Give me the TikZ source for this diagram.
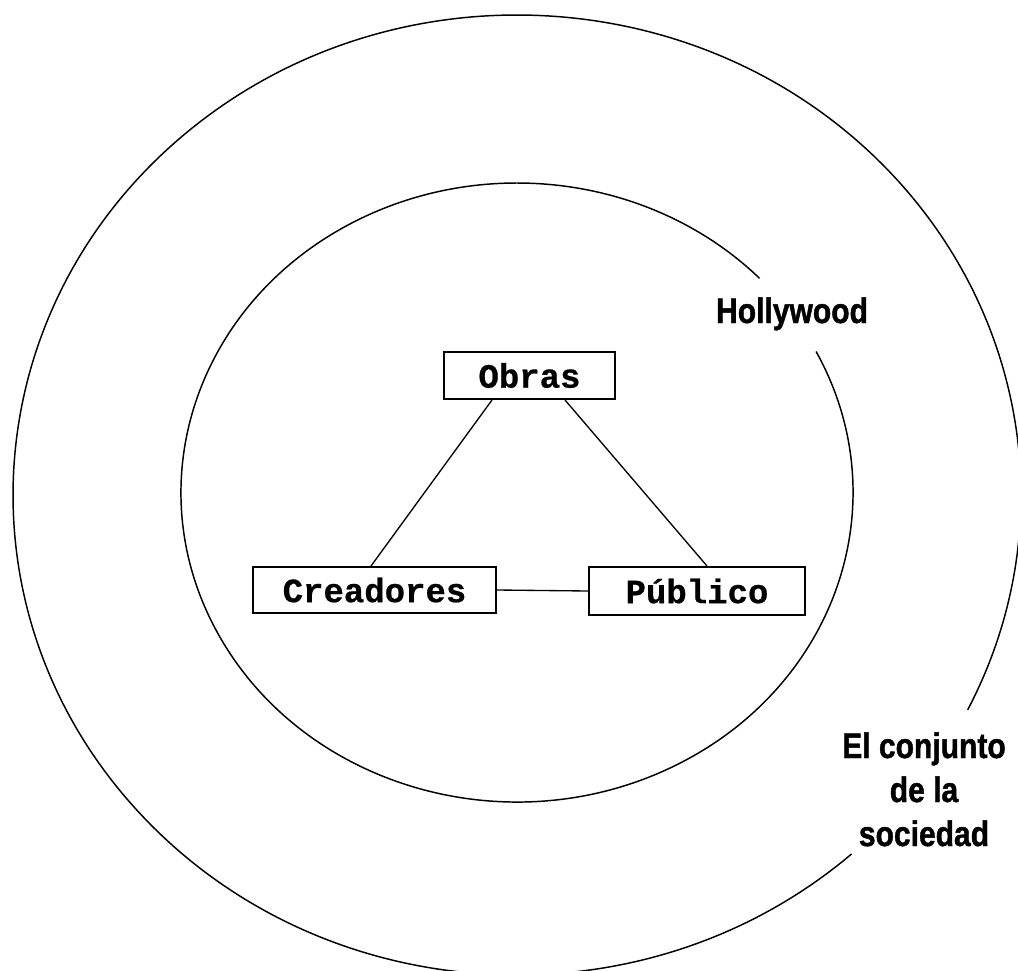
\documentclass[tikz,border=0pt]{standalone}
\usepackage{fontspec}
\usetikzlibrary{calc}
\newfontfamily\monofnt[FakeBold=0.6]{Liberation Mono}
\newfontfamily\labelfnt[FakeStretch=0.85,FakeBold=1.2]{Liberation Sans}
\tikzset{
  ring/.style={line width=1.1pt},
  box/.style={draw, line width=1.5pt, rectangle, inner sep=0pt, font=\monofnt\bfseries\fontsize{25.5pt}{30pt}\selectfont},
  link/.style={line width=1pt},
  lbl/.style={font=\labelfnt\bfseries\fontsize{26.5pt}{33pt}\selectfont, align=center, inner sep=0pt}
}
\begin{document}
\begin{tikzpicture}[x=0.75pt,y=-0.75pt]
\useasboundingbox (0,0) rectangle (1018,971);
% outer ring (centre 517,495; radii 504,480), gap for the label
\coordinate (oc) at (517,495);
\draw[ring] ($(oc)+(48.4:504 and 480)$) arc[start angle=48.4, end angle=386.6, x radius=504, y radius=480];
% inner ring (centre 517,492.5; radii 336,309.5), gap for Hollywood
\coordinate (ic) at (517,492.5);
\draw[ring] ($(ic)+(-27.1:336 and 309.5)$) arc[start angle=-27.1, end angle=316.2, x radius=336, y radius=309.5];
% boxes
\node[box, minimum width=171*0.75pt, minimum height=47*0.75pt] (O) at (529.5,375.5) {Obras};
\node[box, minimum width=243*0.75pt, minimum height=46*0.75pt] (C) at (374.5,590) {Creadores};
\node[box, minimum width=216*0.75pt, minimum height=48*0.75pt] (P) at (697,591) {Público};
% connectors
\draw[link] ($(O.south west)+(49,0)$) -- ($(C.north west)+(119,0)$);
\draw[link] ($(O.south west)+(122,0)$) -- ($(P.north west)+(119,0)$);
\draw[link] (C.east) -- (P.west);
% labels
\node[lbl, anchor=base] (H) at (792,323) {Hollywood};
\node[lbl, anchor=base] (S1) at (924,758) {El conjunto};
\node[lbl, anchor=base] (S2) at (924,802) {de la};
\node[lbl, anchor=base] (S3) at (924,846) {sociedad};
\end{tikzpicture}
\end{document}
